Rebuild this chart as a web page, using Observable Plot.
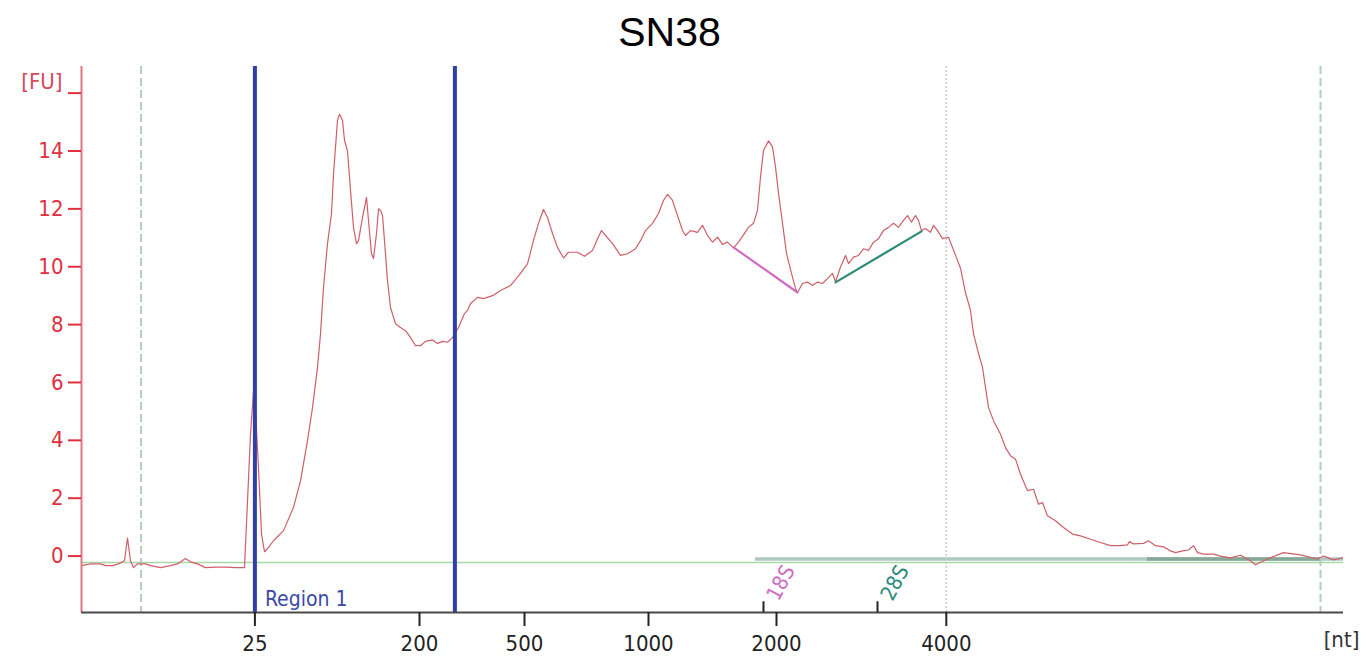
<!DOCTYPE html>
<html>
<head>
<meta charset="utf-8">
<script src="https://cdn.jsdelivr.net/npm/d3@7"></script>
<script src="https://cdn.jsdelivr.net/npm/@observablehq/plot@0.6"></script>
<style>
  body { margin: 0; background: #fff; }
  #title { height: 52px; font: 41px "Liberation Sans", Arial, sans-serif; line-height: 64px; text-align: center; padding-right: 31px; color: #000; }
  #chart svg { overflow: visible; display: block; }
</style>
</head>
<body>
<div id="title">SN38</div>
<div id="chart"></div>
<script>
// ---- Data (migration time [s] vs fluorescence [FU]) ----
const time = [16.0,16.45,16.95,17.2,17.55,17.85,18.15,18.3,18.45,18.6,18.8,19.2,19.45,19.95,20.45,20.8,21.2,21.45,21.8,22.2,22.7,23.2,23.7,24.15,24.3,24.45,24.6,24.7,24.85,25.0,25.15,25.35,25.6,26.1,26.6,26.95,27.3,27.55,27.8,27.95,28.1,28.3,28.5,28.6,28.8,28.9,29.05,29.15,29.3,29.45,29.6,29.75,29.85,30.05,30.25,30.35,30.5,30.6,30.75,30.85,30.95,31.05,31.15,31.3,31.45,31.7,31.95,32.2,32.45,32.7,32.95,33.2,33.55,33.8,34.05,34.3,34.55,34.85,35.15,35.3,35.45,35.8,36.1,36.55,36.95,37.45,37.95,38.3,38.6,38.85,39.1,39.3,39.55,39.8,40.1,40.35,40.8,41.15,41.55,41.8,42.0,42.2,42.55,42.95,43.3,43.7,43.95,44.2,44.55,44.85,45.1,45.3,45.55,45.8,46.05,46.2,46.45,46.8,47.05,47.3,47.55,47.8,48.05,48.3,48.6,48.85,49.1,49.35,49.6,49.8,49.95,50.1,50.35,50.55,50.7,50.85,51.05,51.25,51.5,51.7,51.8,52.05,52.3,52.55,52.8,53.05,53.3,53.55,53.7,53.95,54.2,54.35,54.6,54.85,55.1,55.35,55.6,55.85,56.1,56.35,56.6,56.85,57.1,57.3,57.5,57.7,57.85,58.0,58.2,58.45,58.6,58.8,59.05,59.35,59.7,59.95,60.2,60.45,60.6,60.85,61.05,61.2,61.35,61.6,61.95,62.2,62.45,62.7,62.95,63.3,63.6,63.85,64.05,64.3,64.7,65.1,65.55,65.95,66.45,66.95,67.45,67.95,68.3,68.4,68.6,69.1,69.35,69.7,70.1,70.45,70.7,71.05,71.35,71.6,71.8,72.1,72.6,72.95,73.45,73.95,74.45,74.7,75.3,76.1,76.95,77.8,78.1,78.6,79.05];
const fu = [-0.33,-0.27,-0.27,-0.33,-0.33,-0.27,-0.16,0.62,-0.16,-0.4,-0.27,-0.27,-0.33,-0.4,-0.33,-0.27,-0.08,-0.2,-0.27,-0.4,-0.38,-0.38,-0.4,-0.4,1.9,4.2,5.7,5.0,3.05,0.77,0.15,0.3,0.53,0.88,1.68,2.6,3.99,5.13,6.52,7.68,9.28,10.8,11.84,13.2,15.06,15.27,15.06,14.37,14.0,12.64,11.36,10.8,10.9,11.7,12.4,11.6,10.45,10.28,11.14,12.0,11.95,11.77,10.9,9.52,8.59,8.03,7.9,7.79,7.56,7.27,7.27,7.42,7.47,7.35,7.42,7.39,7.55,7.9,8.38,8.49,8.73,8.94,8.9,9.0,9.18,9.35,9.77,10.1,10.91,11.5,11.98,11.7,11.15,10.67,10.3,10.5,10.5,10.36,10.56,10.97,11.25,11.08,10.8,10.39,10.45,10.62,10.9,11.25,11.5,11.84,12.29,12.5,12.29,11.77,11.25,11.08,11.25,11.19,11.43,11.08,10.85,11.02,10.77,10.85,10.65,10.85,11.1,11.36,11.5,11.95,13.1,14.02,14.35,14.14,13.45,12.54,11.5,10.46,9.77,9.25,9.11,9.42,9.47,9.35,9.47,9.42,9.59,9.77,9.47,9.99,10.39,10.11,10.33,10.39,10.62,10.56,10.85,10.97,11.25,11.36,11.5,11.36,11.6,11.77,11.54,11.77,11.6,11.25,11.32,11.19,11.43,11.25,10.97,11.02,10.4,9.95,9.1,8.49,7.69,7.0,6.52,5.83,5.14,4.68,4.21,3.75,3.47,3.35,2.83,2.26,2.31,1.79,1.85,1.39,1.22,0.99,0.76,0.7,0.58,0.47,0.36,0.36,0.39,0.5,0.42,0.44,0.53,0.36,0.32,0.18,0.12,0.18,0.21,0.36,0.12,0.07,0.07,0.0,-0.06,0.03,-0.16,-0.3,-0.1,0.12,0.04,-0.1,0.0,-0.13,-0.06];

// size ladder tick positions (time) and their nt labels
const ladderTimes  = [24.67, 32.9, 38.15, 44.35, 50.75, 59.24];
const ladderLabels = ["25", "200", "500", "1000", "2000", "4000"];

// FU axis ticks
const fuTicks      = [0, 2, 4, 6, 8, 10, 12, 14, 16];
const fuTickLabels = ["0", "2", "4", "6", "8", "10", "12", "14", ""];

// region 1 boundaries
const regionTimes = [24.67, 34.67];
const regionName  = "Region 1";

// lower / upper marker (dashed) and 4000 nt guide (dotted)
const markerTimes = [18.98, 77.95];
const guideTimes  = [59.24];

// rRNA peaks
const rnaNames = ["18S", "28S"];
const rnaTimes = [50.1, 55.8];
const rnaColors = ["#d06cc4", "#2a8a78"];
// rRNA peak baselines (start/end time & FU)
const rnaBaseT1 = [48.6, 53.7];
const rnaBaseF1 = [10.67, 9.46];
const rnaBaseT2 = [51.8, 58.0];
const rnaBaseF2 = [9.11, 11.22];

// signal baselines
const baseT1 = [16.0, 49.7, 69.3];
const baseT2 = [79.1, 79.1, 77.95];
const baseFU = [-0.22, -0.1, -0.1];
const baseColors = ["#a8d8a8", "#adc8c0", "#86a898"];
const baseWidths = [1.5, 3.5, 3.5];

const X_DOMAIN = [16, 79.1];
const Y_DOMAIN = [-1.95, 16.92];

// ---- Build tables ----
const trace = time.map((t, i) => ({t, fu: fu[i]}));
const ladder = new Map(ladderTimes.map((t, i) => [t, ladderLabels[i]]));
const fuLab = new Map(fuTicks.map((v, i) => [v, fuTickLabels[i]]));
const rna = rnaNames.map((n, i) => ({name: n, t: rnaTimes[i], color: rnaColors[i]}));
const rnaBase = rnaNames.map((n, i) => ({name: n, color: rnaColors[i],
  pts: [{t: rnaBaseT1[i], fu: rnaBaseF1[i]}, {t: rnaBaseT2[i], fu: rnaBaseF2[i]}]}));
const bases = baseFU.map((v, i) => ({t1: baseT1[i], t2: baseT2[i], fu: v, c: baseColors[i], w: baseWidths[i]}));

const FONT = '"DejaVu Sans Condensed", "Liberation Sans", sans-serif';

const chart = Plot.plot({
  width: 1370,
  height: 609,
  marginLeft: 81,
  marginRight: 27,
  marginTop: 14,
  marginBottom: 49,
  x: {domain: X_DOMAIN, axis: null},
  y: {domain: Y_DOMAIN, axis: null},
  style: {fontFamily: FONT, background: "#fff", overflow: "visible"},
  marks: [
    // baselines
    ...bases.map(b => Plot.ruleY([b], {y: "fu", x1: "t1", x2: "t2", stroke: b.c, strokeWidth: b.w})),
    // lower/upper marker dashed lines
    Plot.ruleX(markerTimes, {stroke: "#b4cdbc", strokeWidth: 2, strokeDasharray: "8,4"}),
    // 4000 nt dotted guide
    Plot.ruleX(guideTimes, {stroke: "#c9c9c9", strokeWidth: 1.5, strokeDasharray: "2,2"}),
    // electropherogram trace
    Plot.line(trace, {x: "t", y: "fu", stroke: "#cf5f68", strokeWidth: 1.2}),
    // rRNA peak baselines
    ...rnaBase.map(r => Plot.line(r.pts, {x: "t", y: "fu", stroke: r.color, strokeWidth: 2.2})),
    // region boundaries
    Plot.ruleX(regionTimes, {stroke: "#2f3fa6", strokeWidth: 4}),
    Plot.text([regionName], {x: regionTimes[0], y: -1.48, text: d => d, dx: 10, textAnchor: "start",
      fill: "#3a4aa6", fontSize: 21}),
    // axes lines
    Plot.ruleX([X_DOMAIN[0]], {stroke: "#e57680", strokeWidth: 2}),
    Plot.ruleY([Y_DOMAIN[0]], {stroke: "#4a4a4a", strokeWidth: 2}),
    // rRNA marker ticks and labels
    Plot.ruleX(rna, {x: "t", y1: Y_DOMAIN[0], y2: -1.58, stroke: "#222", strokeWidth: 2}),
    Plot.text(rna, {x: "t", y: -1.48, text: "name", fill: "color", rotate: -62, dx: 9,
      textAnchor: "start", fontSize: 21}),
    // x axis (nt ladder)
    Plot.axisX({anchor: "bottom", ticks: ladderTimes, tickFormat: d => ladder.get(d), tickSize: 14,
      tickPadding: 9, fontSize: 22, color: "#222", strokeWidth: 2, label: null}),
    // y axis (FU)
    Plot.axisY({anchor: "left", ticks: fuTicks, tickFormat: d => fuLab.get(d), tickSize: 13,
      tickPadding: 5, fontSize: 22, color: "#e0303f", strokeWidth: 2, label: null}),
    // unit labels
    Plot.text(["[FU]"], {frameAnchor: "top-left", text: d => d, dx: -19, dy: 7, textAnchor: "end",
      fill: "#d44a58", fontSize: 22}),
    Plot.text(["[nt]"], {frameAnchor: "bottom-right", text: d => d, dx: -2, dy: 34, textAnchor: "middle",
      fill: "#333", fontSize: 22})
  ]
});
document.getElementById("chart").appendChild(chart);
</script>
</body>
</html>
